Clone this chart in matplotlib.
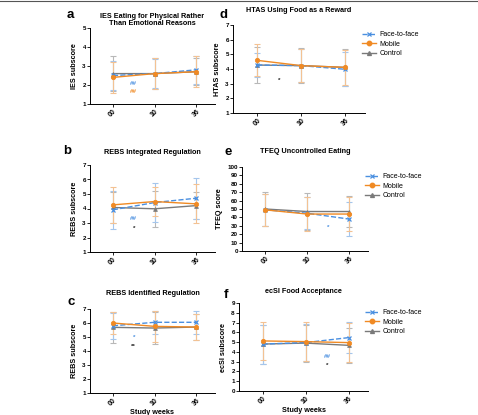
import numpy as np
import matplotlib
matplotlib.use('Agg')
import matplotlib.pyplot as plt
from matplotlib.lines import Line2D

plt.rcParams['font.family'] = ['Liberation Sans', 'DejaVu Sans']

# 数据
weeks = ['00', '10', '36']
groups = ['Face-to-face', 'Mobile', 'Control']

ies_face = [2.5, 2.6, 2.8]
ies_face_sd = [0.75, 0.75, 0.75]
ies_mobile = [2.4, 2.6, 2.7]
ies_mobile_sd = [0.8, 0.8, 0.8]
ies_control = [2.6, 2.6, 2.7]
ies_control_sd = [0.9, 0.8, 0.7]

htas_face = [4.27, 4.23, 3.98]
htas_face_sd = [0.8, 1.1, 1.15]
htas_mobile = [4.59, 4.23, 4.11]
htas_mobile_sd = [1.1, 1.15, 1.2]
htas_control = [4.27, 4.23, 4.11]
htas_control_sd = [1.2, 1.2, 1.25]

rebsi_face = [3.91, 4.41, 4.71]
rebsi_face_sd = [1.3, 1.35, 1.4]
rebsi_mobile = [4.25, 4.48, 4.32]
rebsi_mobile_sd = [1.25, 1.0, 1.35]
rebsi_control = [4.07, 3.98, 4.2]
rebsi_control_sd = [1.1, 1.25, 0.95]

tfeq_face = [49, 45, 38]
tfeq_face_sd = [19, 19, 20]
tfeq_mobile = [49, 44, 44]
tfeq_mobile_sd = [19, 20, 20]
tfeq_control = [50, 47, 47]
tfeq_control_sd = [20, 22, 19]

rebsd_face = [5.8, 6.05, 6.05]
rebsd_face_sd = [0.95, 0.8, 0.8]
rebsd_mobile = [6.0, 5.76, 5.71]
rebsd_mobile_sd = [0.8, 1.1, 0.9]
rebsd_control = [5.69, 5.64, 5.71]
rebsd_control_sd = [1.1, 1.15, 0.9]

ecsi_face = [4.8, 4.95, 5.46]
ecsi_face_sd = [2.0, 1.9, 1.6]
ecsi_mobile = [5.12, 5.05, 4.95]
ecsi_mobile_sd = [1.9, 2.0, 2.0]
ecsi_control = [4.8, 4.9, 4.67]
ecsi_control_sd = [2.0, 1.9, 1.8]

# 显著性标记 (x, y, text, group)
ies_marks = [(0.5, 2.08, '##', 'face'), (0.5, 1.65, '##', 'mobile')]
htas_marks = [(0.5, 3.2, '*', 'control')]
rebsi_marks = [(0.5, 3.29, '##', 'face'), (0.5, 2.62, '*', 'control')]
tfeq_marks = [(1.5, 28, '*', 'face')]
rebsd_marks = [(0.5, 4.98, '*', 'face'), (0.5, 4.3, '**', 'control')]
ecsi_marks = [(1.5, 3.57, '##', 'face'), (1.5, 2.57, '*', 'control')]

colors = {'face': '#4a8fe0', 'mobile': '#f08a24', 'control': '#7a7a7a'}
err_colors = {'face': '#a5c6ec', 'mobile': '#f3c293', 'control': '#b8b8b8'}

W, H = 478, 415
fig = plt.figure(figsize=(W / 100, H / 100), dpi=100)


def px_axes(x0, y0, x1, y1):
    # 像素坐标 -> 图坐标
    return fig.add_axes([x0 / W, 1 - y1 / H, (x1 - x0) / W, (y1 - y0) / H])


def draw_panel(ax, data, ylim, yticks, ylabel, title, marks, title_pad=7, xlabel=False, legend=False):
    x = np.arange(len(weeks))
    styles = {
        'face': dict(marker='x', ls='--', ms=3.2, mew=0.9),
        'control': dict(marker='^', ls='-', ms=2.8, mew=0.5),
        'mobile': dict(marker='o', ls='-', ms=3.2, mew=0.5),
    }
    for key in ['control', 'face', 'mobile']:
        mean, sd = data[key]
        ax.errorbar(x, mean, yerr=sd, fmt='none', ecolor=err_colors[key],
                    elinewidth=0.8, capsize=2.5, capthick=0.8, zorder=2)
    for key in ['control', 'face', 'mobile']:
        mean, sd = data[key]
        ax.plot(x, mean, color=colors[key], lw=1.0, zorder=3, **styles[key])
    for mx, my, txt, key in marks:
        c = colors[key] if key != 'control' else '#222222'
        ax.text(mx, my, txt, color=c, fontsize=4.5, ha='center', va='center', fontweight='bold')
    ax.set_xlim(-0.55, 2.45)
    ax.set_ylim(*ylim)
    ax.set_yticks(yticks)
    ax.set_xticks(x)
    ax.set_xticklabels(weeks, rotation=45, fontsize=5, fontweight='bold')
    ax.tick_params(axis='y', labelsize=4.5, length=2, width=0.6, pad=1)
    ax.tick_params(axis='x', length=2, width=0.6, pad=1)
    for lab in ax.get_yticklabels():
        lab.set_fontweight('bold')
    ax.spines['top'].set_visible(False)
    ax.spines['right'].set_visible(False)
    ax.spines['left'].set_linewidth(0.7)
    ax.spines['bottom'].set_linewidth(0.7)
    ax.set_ylabel(ylabel, fontsize=5.2, fontweight='bold', labelpad=3)
    ax.set_title(title, fontsize=5.2, fontweight='bold', pad=title_pad, linespacing=1.1)
    if xlabel:
        ax.set_xlabel('Study weeks', fontsize=5.2, fontweight='bold', labelpad=1)
    if legend:
        handles = [
            Line2D([], [], color=colors['face'], ls='--', marker='x', ms=3.2, mew=0.9, lw=1.0),
            Line2D([], [], color=colors['mobile'], ls='-', marker='o', ms=3.2, lw=1.0),
            Line2D([], [], color=colors['control'], ls='-', marker='^', ms=2.8, lw=1.0),
        ]
        ax.legend(handles, groups, loc='upper left', bbox_to_anchor=(0.93, 1.0), frameon=False,
                  fontsize=5, handlelength=2.0, labelspacing=0.35, handletextpad=0.5)


ax_a = px_axes(90, 28, 215, 104)
draw_panel(ax_a, {'face': (ies_face, ies_face_sd), 'mobile': (ies_mobile, ies_mobile_sd),
                  'control': (ies_control, ies_control_sd)},
           (1, 5), [1, 2, 3, 4, 5], 'IES subscore',
           'IES Eating for Physical Rather\nThan Emotional Reasons', ies_marks, title_pad=2)

ax_d = px_axes(233, 25, 365, 113)
draw_panel(ax_d, {'face': (htas_face, htas_face_sd), 'mobile': (htas_mobile, htas_mobile_sd),
                  'control': (htas_control, htas_control_sd)},
           (1, 7), list(range(1, 8)), 'HTAS subscore',
           'HTAS Using Food as a Reward', htas_marks, title_pad=9, legend=True)

ax_b = px_axes(90, 165, 215, 252)
draw_panel(ax_b, {'face': (rebsi_face, rebsi_face_sd), 'mobile': (rebsi_mobile, rebsi_mobile_sd),
                  'control': (rebsi_control, rebsi_control_sd)},
           (1, 7), list(range(1, 8)), 'REBS subscore',
           'REBS Integrated Regulation', rebsi_marks, title_pad=8)

ax_e = px_axes(242, 167, 368, 251)
draw_panel(ax_e, {'face': (tfeq_face, tfeq_face_sd), 'mobile': (tfeq_mobile, tfeq_mobile_sd),
                  'control': (tfeq_control, tfeq_control_sd)},
           (0, 100), list(range(0, 101, 10)), 'TFEQ score',
           'TFEQ Uncontrolled Eating', tfeq_marks, title_pad=10, legend=True)

ax_c = px_axes(90, 309, 215, 393)
draw_panel(ax_c, {'face': (rebsd_face, rebsd_face_sd), 'mobile': (rebsd_mobile, rebsd_mobile_sd),
                  'control': (rebsd_control, rebsd_control_sd)},
           (1, 7), list(range(1, 8)), 'REBS subscore',
           'REBS Identified Regulation', rebsd_marks, title_pad=10, xlabel=True)

ax_f = px_axes(239, 303, 368, 391)
draw_panel(ax_f, {'face': (ecsi_face, ecsi_face_sd), 'mobile': (ecsi_mobile, ecsi_mobile_sd),
                  'control': (ecsi_control, ecsi_control_sd)},
           (0, 9), list(range(0, 10)), 'ecSI subscore',
           'ecSI Food Acceptance', ecsi_marks, title_pad=7, xlabel=True, legend=True)

# 面板字母
for letter, (lx, ly) in zip('adbecf', [(70, 15), (223, 15), (67, 151), (228, 152), (71, 302), (226, 295)]):
    fig.text(lx / W, 1 - ly / H, letter, fontsize=9.5, fontweight='bold', ha='center', va='center')

# 顶部边线
fig.add_artist(Line2D([0, 1], [1 - 1.5 / H, 1 - 1.5 / H], transform=fig.transFigure,
                      color='#555555', lw=0.8))

fig.savefig('out.png', dpi=100)
